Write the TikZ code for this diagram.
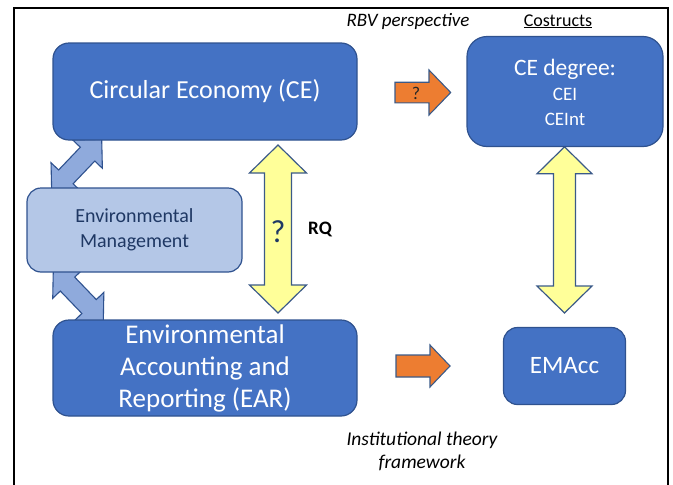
\documentclass[tikz,border=0pt]{standalone}
\usepackage{fontspec}
\setmainfont{Carlito}
\usetikzlibrary{calc}

\definecolor{boxblue}{HTML}{4472C4}
\definecolor{edgeblue}{HTML}{2F528F}
\definecolor{paleblue}{HTML}{B4C7E7}
\definecolor{linkblue}{HTML}{8FAADC}
\definecolor{paleyellow}{HTML}{FFFF99}
\definecolor{accentorange}{HTML}{ED7D31}
\definecolor{navytext}{HTML}{1F3864}
\definecolor{slateedge}{HTML}{3B5A88}

% block arrow with heads at both ends:
% #1 style, #2 first tip, #3 second tip, #4 head length, #5 head half width, #6 shaft half width
\newcommand{\twowayblock}[6]{%
  \coordinate (hA) at ($(#2)!#4!(#3)$);
  \coordinate (hB) at ($(#3)!#4!(#2)$);
  \draw[#1] (#2)
    -- ($(hA)!#5!90:(#3)$) -- ($(hA)!#6!90:(#3)$)
    -- ($(hB)!#6!-90:(#2)$) -- ($(hB)!#5!-90:(#2)$)
    -- (#3)
    -- ($(hB)!#5!90:(#2)$) -- ($(hB)!#6!90:(#2)$)
    -- ($(hA)!#6!-90:(#3)$) -- ($(hA)!#5!-90:(#3)$)
    -- cycle;}

% block arrow with one head: #2 tail, #3 tip, other arguments as above
\newcommand{\onewayblock}[6]{%
  \coordinate (hB) at ($(#3)!#4!(#2)$);
  \draw[#1] ($(#2)!#6!90:(#3)$)
    -- ($(hB)!#6!-90:(#2)$) -- ($(hB)!#5!-90:(#2)$)
    -- (#3)
    -- ($(hB)!#5!90:(#2)$) -- ($(hB)!#6!90:(#2)$)
    -- ($(#2)!#6!-90:(#3)$) -- cycle;}

\tikzset{
  mainbox/.style={draw=edgeblue, line width=1.2pt, fill=boxblue, text=white,
    align=center, inner sep=0pt, rounded corners=16pt},
  mgmtbox/.style={draw=edgeblue, line width=1.2pt, fill=paleblue, text=navytext,
    align=center, inner sep=0pt, rounded corners=14pt},
  linkarrow/.style={draw=edgeblue, line width=1.1pt, fill=linkblue, line join=miter},
  yellowarrow/.style={draw=slateedge, line width=1.2pt, fill=paleyellow, line join=miter},
  orangearrow/.style={draw=slateedge, line width=1.1pt, fill=accentorange, line join=miter},
  caption/.style={inner sep=0pt, text=black},
}

\begin{document}
\begin{tikzpicture}[x=1pt,y=-1pt]
\useasboundingbox (0,0) rectangle (673,485);

% outer frame (open at the bottom)
\draw[line width=1.3pt, black] (14,485) -- (14,8) -- (668,8) -- (668,485);

% arrow end points
\coordinate (linkAtop) at (101.7,139.3);
\coordinate (linkAbot) at (51.7,191.7);
\coordinate (linkBtop) at (53.3,269.3);
\coordinate (linkBbot) at (103.3,321.3);
\coordinate (rqtop) at (278,145);
\coordinate (rqbot) at (278,313);
\coordinate (rightop) at (564.5,146.8);
\coordinate (rightbot) at (564.5,313);
\coordinate (rbvtail) at (395,92.5);
\coordinate (rbvtip) at (450.7,92.5);
\coordinate (insttail) at (396,366);
\coordinate (insttip) at (450,366);

% block arrows
\twowayblock{linkarrow}{linkAtop}{linkAbot}{20.5pt}{20.5pt}{10pt}
\twowayblock{linkarrow}{linkBtop}{linkBbot}{20.5pt}{20.5pt}{10pt}
\twowayblock{yellowarrow}{rqtop}{rqbot}{28pt}{28.5pt}{13.5pt}
\twowayblock{yellowarrow}{rightop}{rightbot}{27pt}{27.5pt}{11pt}
\onewayblock{orangearrow}{rbvtail}{rbvtip}{21.7pt}{22.5pt}{10.3pt}
\onewayblock{orangearrow}{insttail}{insttip}{20pt}{21pt}{11pt}

% boxes
\node[mainbox, minimum width=304pt, minimum height=97pt,
  font=\fontsize{26}{31}\selectfont] (ce) at (205,91.5) {Circular Economy (CE)};
\node[mgmtbox, minimum width=215pt, minimum height=84pt,
  font=\fontsize{20}{25}\selectfont] (em) at (134.5,230) {Environmental\\Management};
\node[mainbox, minimum width=304pt, minimum height=96pt,
  font=\fontsize{27}{32}\selectfont] (ear) at (205,368)
  {Environmental\\Accounting and\\Reporting (EAR)};
\node[mainbox, minimum width=196pt, minimum height=110pt, rounded corners=20pt]
  (cedeg) at (565,91.5) {};
\node[mainbox, minimum width=122pt, minimum height=77pt, rounded corners=14pt,
  font=\fontsize{25}{30}\selectfont] (emacc) at (564.5,366) {EMAcc};

% text inside the construct box
\node[caption, text=white, anchor=base, font=\fontsize{23.5}{28}\selectfont]
  (cedegtitle) at (565,75) {CE degree:};
\node[caption, text=white, anchor=base, font=\fontsize{19}{22}\selectfont]
  (cedegcei) at (565,100) {CEI};
\node[caption, text=white, anchor=base, font=\fontsize{19}{22}\selectfont]
  (cedegceint) at (565,125) {CEInt};

% question marks and labels
\node[caption, text=navytext, font=\fontsize{32}{36}\selectfont] (rqmark) at (278,232) {?};
\node[caption, font=\bfseries\fontsize{19}{22}\selectfont] (rq) at (320,229) {RQ};
\node[caption, text=black!85, font=\fontsize{18}{21}\selectfont] (rbvmark) at (416,93) {?};

\node[caption, anchor=base, font=\itshape\fontsize{19}{23}\selectfont]
  (rbv) at (408,26) {RBV perspective};
\node[caption, anchor=base, font=\fontsize{18}{22}\selectfont]
  (constructs) at (558,26) {\underline{Costructs}};
\node[caption, align=center, font=\itshape\fontsize{19.5}{23}\selectfont]
  (inst) at (422,451) {Institutional theory\\framework};
\end{tikzpicture}
\end{document}
